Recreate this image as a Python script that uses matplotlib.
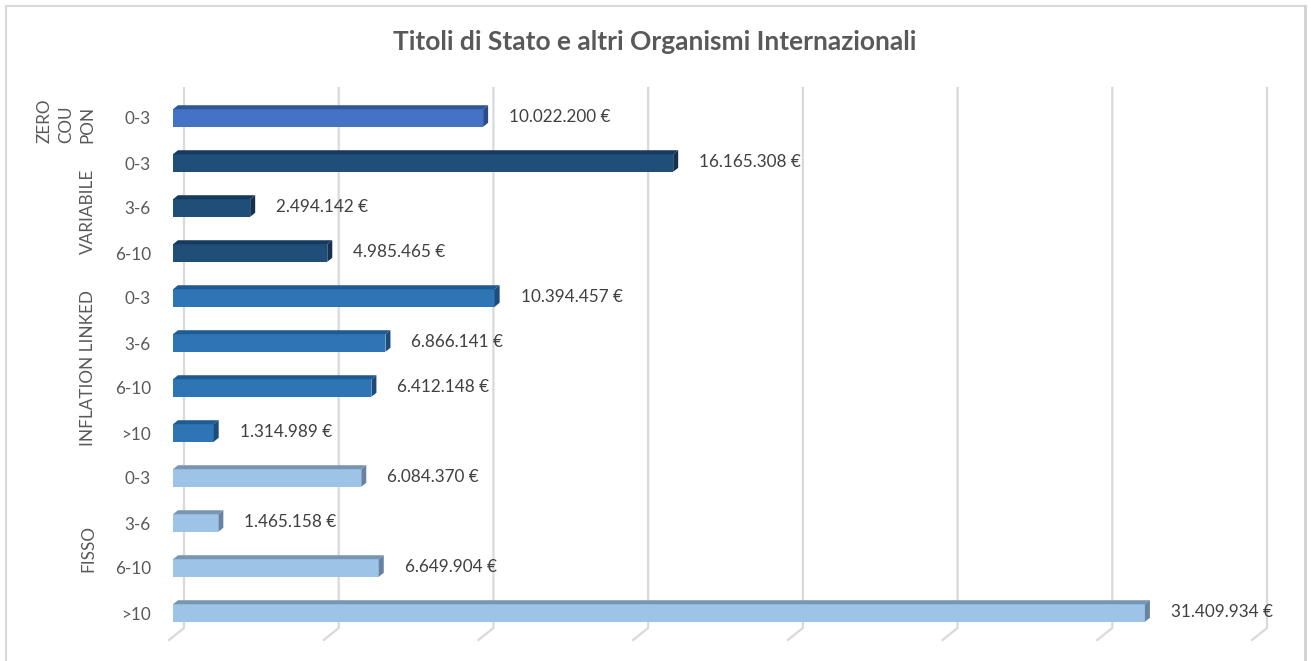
import matplotlib
matplotlib.use("Agg")
import matplotlib.pyplot as plt
from matplotlib.patches import Polygon, Rectangle
from matplotlib.lines import Line2D

# ---------------- data ----------------
title = "Titoli di Stato e altri Organismi Internazionali"
groups = ["ZERO\nCOU\nPON", "VARIABILE", "INFLATION LINKED", "FISSO"]
categories = ["0-3", "0-3", "3-6", "6-10", "0-3", "3-6", "6-10", ">10",
              "0-3", "3-6", "6-10", ">10"]
group_index = [0, 1, 1, 1, 2, 2, 2, 2, 3, 3, 3, 3]
values = [10022200, 16165308, 2494142, 4985465, 10394457, 6866141, 6412148,
          1314989, 6084370, 1465158, 6649904, 31409934]
x_max = 35_000_000
grid_step = 5_000_000

# ---------------- styles ----------------
front_colors = ["#4472C4", "#1F4E79", "#2E75B6", "#9DC3E6"]
top_colors = ["#2F5597", "#163A5E", "#1F5A92", "#7895B2"]
side_colors = ["#2B4C86", "#14324F", "#1C4C7C", "#6783A1"]
FONT = "Lato"

W, H = 1311, 661
fig = plt.figure(figsize=(W / 100, H / 100), dpi=100)
fig.patch.set_facecolor("white")

# axes placement (pixels)
ax_left, ax_right = 173, 1256
ax_top, ax_bot = 95.5, 635.5
ax = fig.add_axes([ax_left / W, (H - ax_bot) / H, (ax_right - ax_left) / W, (ax_bot - ax_top) / H])
n = len(categories)
ax.set_xlim(0, x_max)
ax.set_ylim(n - 0.5, -0.5)
for s in ax.spines.values():
    s.set_visible(False)
ax.set_xticks([])

kx = (ax_right - ax_left) / x_max      # px per value unit
ky = (ax_bot - ax_top) / n             # px per category

def dx(px):
    return px / kx

def dy(px_up):
    return -px_up / ky

# gridlines on back wall with floor diagonals
back_dx = 11
grid_top = -0.5 + dy(95.5 - 88)
grid_bot = n - 0.5 + dy(635.5 - 628)
g = 0
while g <= x_max:
    xb = g + dx(back_dx)
    ax.add_line(Line2D([xb, xb, xb + dx(-15)], [grid_top, grid_bot, grid_bot + dy(-12)],
                       color="#D9D9D9", lw=1.6, clip_on=False, zorder=1))
    g += grid_step

# bars (pseudo 3D)
h = 0.39
bdx, bdy = 5, 4
for i, v in enumerate(values):
    gi = group_index[i]
    top = i - h / 2
    ax.add_patch(Rectangle((0, top), v, h, facecolor=front_colors[gi], edgecolor="none", zorder=3))
    ax.add_patch(Polygon([(0, top), (v, top), (v + dx(bdx), top + dy(bdy)), (dx(bdx), top + dy(bdy))],
                         closed=True, facecolor=top_colors[gi], edgecolor="none", zorder=3, clip_on=False))
    ax.add_patch(Polygon([(v, top), (v + dx(bdx), top + dy(bdy)), (v + dx(bdx), top + h + dy(bdy)), (v, top + h)],
                         closed=True, facecolor=side_colors[gi], edgecolor="none", zorder=3, clip_on=False))
    lab = f"{v:,}".replace(",", ".") + " €"
    ax.annotate(lab, xy=(v, i), xytext=(26, 1), textcoords="offset pixels",
                ha="left", va="center", fontsize=12.3, color="#404040", family=FONT,
                annotation_clip=False)

# category tick labels
ax.set_yticks(range(n))
ax.set_yticklabels(categories, fontsize=12.3, color="#595959", family=FONT)
ax.tick_params(axis="y", length=0, pad=16)

# group labels
for gi, name in enumerate(groups):
    rows = [i for i in range(n) if group_index[i] == gi]
    yc = (min(rows) + max(rows)) / 2 + 3 / ky
    if "\n" in name:
        ax.text(-dx(107), yc, name, rotation=90, ha="center", va="center",
                fontsize=12.3, color="#595959", family=FONT, linespacing=1.45,
                multialignment="left", clip_on=False)
    else:
        ax.text(-dx(85), yc, name, rotation=90, ha="center", va="center",
                fontsize=12.3, color="#595959", family=FONT, clip_on=False)

# title
fig.text(655 / W, 1 - 42 / H, title, ha="center", va="center", fontsize=19,
         fontweight="bold", color="#595959", family=FONT)

# outer frame
fig.add_artist(Line2D([6 / W, 6 / W], [0, 1 - 6 / H], color="#D9D9D9", lw=1.5, transform=fig.transFigure))
fig.add_artist(Line2D([6 / W, 1305 / W], [1 - 6 / H, 1 - 6 / H], color="#D9D9D9", lw=1.5, transform=fig.transFigure))
fig.add_artist(Line2D([1305 / W, 1305 / W], [0, 1 - 6 / H], color="#D0D0D0", lw=2.0, transform=fig.transFigure))

fig.savefig("out.png", dpi=100)
